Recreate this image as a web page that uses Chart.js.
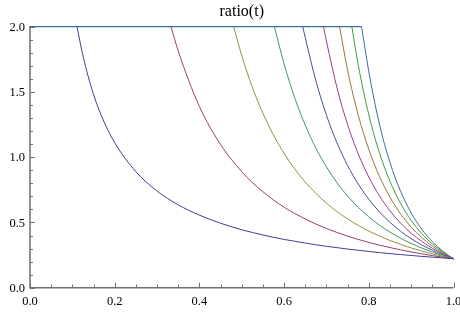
<!DOCTYPE html>
<html><head><meta charset="utf-8">
<script src="https://cdn.jsdelivr.net/npm/chart.js@4"></script>
<style>html,body{margin:0;padding:0;background:#fff}canvas{display:block}</style>
</head><body>
<canvas id="c" width="460" height="313"></canvas>
<script>
// shared t sample points (series values are aligned to the END of this list)
const T = [0.125,0.15,0.175,0.2,0.25,0.3,0.35,0.4,0.45,0.5,0.525,0.55,0.575,0.6,0.625,0.65,0.675,0.7,0.725,0.75,0.775,0.8,0.825,0.85,0.875,0.9,0.925,0.95,0.975,1.0];
// t where each curve leaves the 2.0 ceiling
const startT = [0.111,0.333,0.481,0.577,0.644,0.693,0.731,0.760,0.783];
const capValue = 2.0;
const r1 = [1.778,1.481,1.270,1.111,0.889,0.741,0.635,0.556,0.494,0.444,0.423,0.404,0.386,0.370,0.356,0.342,0.329,0.317,0.307,0.296,0.287,0.278,0.269,0.261,0.254,0.247,0.240,0.234,0.228,0.222];
const r2 = [1.814,1.389,1.097,0.889,0.806,0.735,0.672,0.617,0.569,0.526,0.488,0.454,0.423,0.395,0.370,0.347,0.326,0.308,0.290,0.274,0.260,0.246,0.234,0.222];
const r3 = [1.778,1.536,1.336,1.169,1.029,0.910,0.809,0.723,0.648,0.583,0.527,0.477,0.434,0.396,0.362,0.332,0.305,0.281,0.259,0.240,0.222];
const r4 = [1.715,1.456,1.245,1.070,0.926,0.804,0.702,0.616,0.543,0.480,0.426,0.379,0.339,0.304,0.273,0.246,0.222];
const r5 = [1.915,1.586,1.322,1.109,0.936,0.795,0.678,0.581,0.501,0.433,0.376,0.328,0.287,0.252,0.222];
const r6 = [1.889,1.530,1.249,1.026,0.848,0.705,0.589,0.495,0.418,0.355,0.302,0.259,0.222];
const r7 = [1.665,1.323,1.060,0.854,0.693,0.566,0.465,0.384,0.318,0.265,0.222];
const r8 = [1.708,1.325,1.035,0.816,0.647,0.516,0.415,0.335,0.272,0.222];
const r9 = [1.656,1.255,0.959,0.739,0.574,0.448,0.353,0.279,0.222];
const series = [r1,r2,r3,r4,r5,r6,r7,r8,r9];
const colors = ['#3f3d99','#993d71','#998d3d','#3d9959','#3d5599','#993d88','#99763d','#3d9942','#3d6c99'];

const xMajor = [0,0.2,0.4,0.6,0.8,1.0];
const xLabels = ['0.0','0.2','0.4','0.6','0.8','1.0'];
const xMinor = [0.05,0.1,0.15,0.25,0.3,0.35,0.45,0.5,0.55,0.65,0.7,0.75,0.85,0.9,0.95];
const yMajor = [0,0.5,1.0,1.5,2.0];
const yLabels = ['0.0','0.5','1.0','1.5','2.0'];
const yMinor = [0.1,0.2,0.3,0.4,0.6,0.7,0.8,0.9,1.1,1.2,1.3,1.4,1.6,1.7,1.8,1.9];
const titleText = 'ratio(t)';

const datasets = series.map((vals, i) => {
  const ts = T.slice(T.length - vals.length);
  const data = [{x: startT[i], y: capValue}].concat(vals.map((v, j) => ({x: ts[j], y: v})));
  return {data, borderColor: colors[i], borderWidth: 1, pointRadius: 0, fill: false,
          cubicInterpolationMode: 'monotone', clip: false};
});
datasets.push({data: [{x: 0, y: capValue}, {x: startT[8], y: capValue}], borderColor: colors[8],
  borderWidth: 1.2, pointRadius: 0, fill: false, tension: 0, clip: false});

const axesPlugin = {
  id: 'mmaAxes',
  beforeDatasetsDraw(chart) {
    const {ctx, scales: {x, y}} = chart;
    const x0 = x.getPixelForValue(0), y0 = y.getPixelForValue(0);
    ctx.save();
    ctx.strokeStyle = '#707070';
    ctx.lineWidth = 1.5;
    ctx.beginPath();
    ctx.moveTo(x0, y.getPixelForValue(2.0) - 1);
    ctx.lineTo(x0, y0);
    ctx.lineTo(x.getPixelForValue(1.0), y0);
    ctx.stroke();
    ctx.lineWidth = 1;
    ctx.beginPath();
    xMajor.forEach(v => { const p = Math.round(x.getPixelForValue(v)) + 0.5; ctx.moveTo(p, y0); ctx.lineTo(p, y0 - 5); });
    xMinor.forEach(v => { const p = Math.round(x.getPixelForValue(v)) + 0.5; ctx.moveTo(p, y0); ctx.lineTo(p, y0 - 3); });
    yMajor.forEach(v => { const p = Math.round(y.getPixelForValue(v)) + 0.5; ctx.moveTo(x0, p); ctx.lineTo(x0 + 5, p); });
    yMinor.forEach(v => { const p = Math.round(y.getPixelForValue(v)) + 0.5; ctx.moveTo(x0, p); ctx.lineTo(x0 + 3, p); });
    ctx.stroke();
    ctx.fillStyle = '#000';
    ctx.font = '12.5px "Liberation Serif", "Times New Roman", serif';
    ctx.textAlign = 'center'; ctx.textBaseline = 'middle';
    xMajor.forEach((v, i) => ctx.fillText(xLabels[i], x.getPixelForValue(v), y0 + 14));
    ctx.textAlign = 'right'; ctx.textBaseline = 'middle';
    yMajor.forEach((v, i) => ctx.fillText(yLabels[i], x0 - 5, y.getPixelForValue(v) + 1));
    ctx.font = '16px "Liberation Serif", "Times New Roman", serif';
    ctx.textAlign = 'center'; ctx.textBaseline = 'alphabetic';
    ctx.fillText(titleText, (x.left + x.right) / 2, 16);
    ctx.restore();
  }
};

new Chart(document.getElementById('c'), {
  type: 'line',
  data: {datasets},
  options: {
    responsive: false, animation: false, devicePixelRatio: 1,
    layout: {padding: {left: 30, right: 6.5, top: 26.7, bottom: 25.3}},
    plugins: {legend: {display: false}, tooltip: {enabled: false}, title: {display: false}},
    scales: {
      x: {type: 'linear', min: 0, max: 1, display: false},
      y: {type: 'linear', min: 0, max: 2, display: false}
    }
  },
  plugins: [axesPlugin]
});
</script>
</body></html>
